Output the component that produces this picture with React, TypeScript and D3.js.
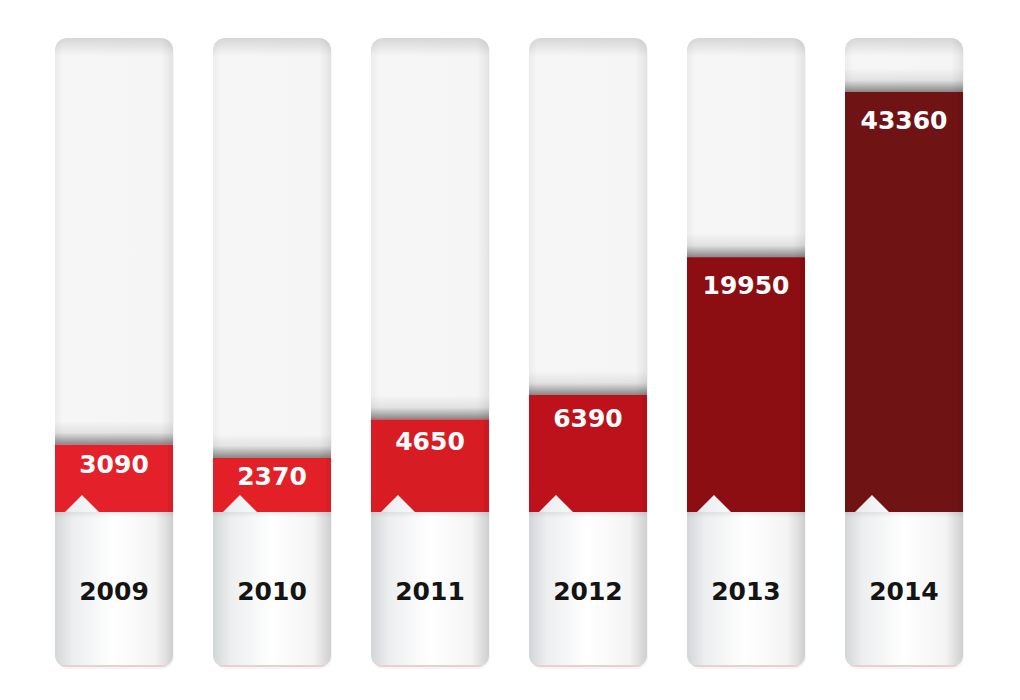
import React from "react";
import * as d3 from "d3";

const years = ["2009", "2010", "2011", "2012", "2013", "2014"];
const values = [3090, 2370, 4650, 6390, 19950, 43360];
const colors = ["#e4202a", "#e32028", "#d81c24", "#bd121c", "#8c0d12", "#6f1315"];

const W = 1020;
const H = 700;
const colTop = 38;
const colBottom = 667;
const barBase = 512;

export default function App() {
  const x = d3.scaleBand<string>().domain(years).range([55, 963]).paddingInner(0.253).paddingOuter(0);
  const y = d3.scalePow().exponent(0.6).domain([2370, 43360]).range([458, 92]);
  const bw = x.bandwidth();

  return (
    <svg width={W} height={H} style={{ position: "absolute", left: 0, top: 0, background: "#fff" }}>
      <defs>
        <linearGradient id="topShade" x1="0" y1="0" x2="0" y2="1">
          <stop offset="0" stopColor="#000" stopOpacity="0.13" />
          <stop offset="1" stopColor="#000" stopOpacity="0" />
        </linearGradient>
        <linearGradient id="sideShade" x1="0" y1="0" x2="1" y2="0">
          <stop offset="0" stopColor="#ececec" />
          <stop offset="0.07" stopColor="#f6f6f6" />
          <stop offset="0.9" stopColor="#f5f5f5" />
          <stop offset="1" stopColor="#e2e2e2" />
        </linearGradient>
        <linearGradient id="barShadow" x1="0" y1="0" x2="0" y2="1">
          <stop offset="0" stopColor="#000" stopOpacity="0" />
          <stop offset="0.5" stopColor="#000" stopOpacity="0.08" />
          <stop offset="1" stopColor="#000" stopOpacity="0.45" />
        </linearGradient>
        <linearGradient id="lowerShade" x1="0" y1="0" x2="1" y2="0">
          <stop offset="0" stopColor="#d3d6d8" />
          <stop offset="0.15" stopColor="#eceeef" />
          <stop offset="0.5" stopColor="#ffffff" />
          <stop offset="0.85" stopColor="#f4f4f4" />
          <stop offset="1" stopColor="#cfcfcf" />
        </linearGradient>
        <linearGradient id="lowerTop" x1="0" y1="0" x2="0" y2="1">
          <stop offset="0" stopColor="#000" stopOpacity="0.07" />
          <stop offset="1" stopColor="#000" stopOpacity="0" />
        </linearGradient>
        {years.map((yr) => (
          <clipPath id={`clip-${yr}`} key={yr}>
            <rect x={x(yr)} y={colTop} width={bw} height={colBottom - colTop} rx={12} ry={12} />
          </clipPath>
        ))}
      </defs>
      {years.map((yr, i) => {
        const x0 = x(yr) as number;
        const top = y(values[i]);
        const h = barBase - top;
        const labelY = top + Math.min(28, 14 + h / 12);
        const notch = `M${x0},${barBase} L${x0 + 10},${barBase} L${x0 + 27},${barBase - 17} L${x0 + 44},${barBase} L${x0 + bw},${barBase} L${x0 + bw},${colBottom} L${x0},${colBottom} Z`;
        return (
          <g key={yr}>
            <rect x={x0 + 1} y={colTop + 2} width={bw} height={colBottom - colTop} rx={12} fill="#000" opacity={0.04} />
            <g clipPath={`url(#clip-${yr})`}>
              <rect x={x0} y={colTop} width={bw} height={colBottom - colTop} fill="url(#sideShade)" />
              <rect x={x0} y={colTop} width={bw} height={18} fill="url(#topShade)" />
              <rect x={x0} y={top - 24} width={bw} height={24} fill="url(#barShadow)" />
              <rect x={x0} y={top} width={bw} height={h} fill={colors[i]} />
              <rect x={x0 + bw - 5} y={top} width={5} height={h} fill="#000" opacity={0.05} />
              <path d={notch} fill="url(#lowerShade)" />
              <rect x={x0} y={barBase} width={bw} height={6} fill="url(#lowerTop)" />
              <rect x={x0} y={colBottom - 2} width={bw} height={2} fill="#ebcfcf" />
            </g>
            <text
              x={x0 + bw / 2}
              y={labelY}
              textAnchor="middle"
              dominantBaseline="central"
              fill="#fff"
              fontFamily="'DejaVu Sans', sans-serif"
              fontWeight="bold"
              fontSize={25}
            >
              {values[i]}
            </text>
            <text
              x={x0 + bw / 2}
              y={591}
              textAnchor="middle"
              dominantBaseline="central"
              fill="#141414"
              fontFamily="'DejaVu Sans', sans-serif"
              fontWeight="bold"
              fontSize={25}
            >
              {yr}
            </text>
          </g>
        );
      })}
    </svg>
  );
}
